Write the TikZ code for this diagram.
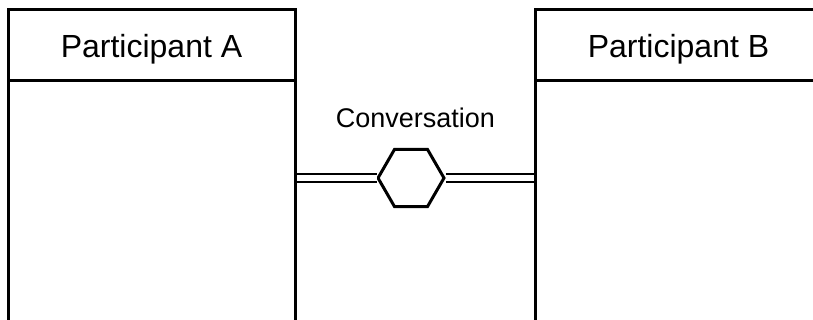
\documentclass[tikz,border=0pt]{standalone}
\usepackage{fontspec}
\setmainfont{Liberation Sans}
\usetikzlibrary{positioning,shapes.geometric}

\tikzset{
  lane/.style={draw,line width=1.5pt,rectangle,inner sep=0pt,outer sep=0pt,
    minimum width=143.5pt},
  lanehead/.style={lane,minimum height=35.5pt,text depth=0pt,
    font=\fontsize{16}{19}\selectfont},
  lanebody/.style={lane,minimum height=150pt},
  convhex/.style={draw,line width=1.5pt,regular polygon,regular polygon sides=6,
    minimum size=33pt,inner sep=0pt,outer sep=0pt},
  link/.style={double,line width=1pt,double distance=3pt,
    shorten <=0.75pt,shorten >=0.75pt}
}

\begin{document}
\begin{tikzpicture}[x=0.5pt,y=-0.5pt]
\clip (0,0) rectangle (813,320);
% two participants with a conversation between them
\node[lanehead] (headA) at (151.5,45.5) {Participant A};
\node[lanebody,below=0pt of headA] (bodyA) {};
\node[lanehead] (headB) at (678.5,45.5) {Participant B};
\node[lanebody,below=0pt of headB] (bodyB) {};

\node[convhex] (conv) at (411,178) {};
\node[above=10.5pt of conv,inner sep=0pt,xshift=2.2pt,
  font=\fontsize{13.5}{16}\selectfont] (convlabel) {Conversation};

\draw[link] (conv.west) -- (conv.west -| bodyA.east);
\draw[link] (conv.east) -- (conv.east -| bodyB.west);
\end{tikzpicture}
\end{document}
